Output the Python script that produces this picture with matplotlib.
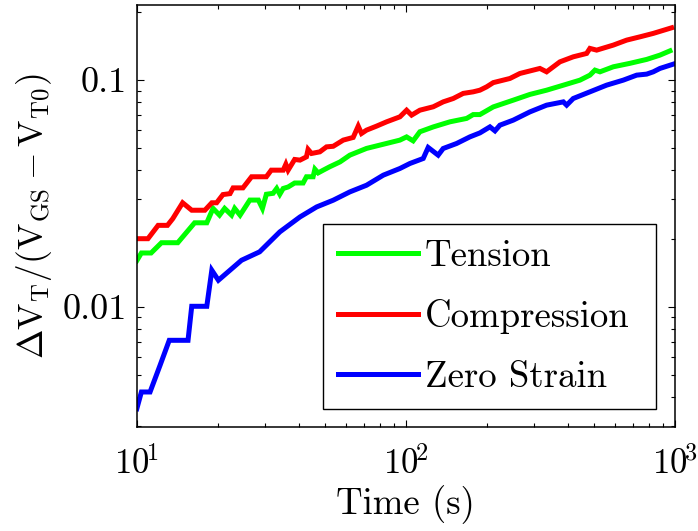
import matplotlib
matplotlib.use("Agg")
import matplotlib.pyplot as plt
from matplotlib.ticker import FixedLocator, FixedFormatter, LogLocator, NullFormatter

plt.rcParams['mathtext.fontset'] = 'cm'
plt.rcParams['font.family'] = ['cmr10', 'DejaVu Serif']
plt.rcParams['axes.unicode_minus'] = False
plt.rcParams['axes.formatter.use_mathtext'] = True

# ---------------- data ----------------
t_tension = [10, 10.4, 11.3, 12.35, 14.2, 16.4, 18.2, 19.2, 20.3, 21.2,
             22.5, 23.1, 24.2, 26.3, 28.3, 29.3, 30.3, 32.1, 33.1, 34.0,
             35.0, 36.5, 38.6, 41.5, 42.7, 45.2, 45.9, 47.2, 49.3, 52.1,
             56.9, 61.9, 71.4, 84.8, 95.0, 100.6, 106.4, 112.7, 126.4, 145.8,
             168.2, 177.9, 188.4, 211.2, 250.6, 289, 333.4, 384.6, 443.6, 483,
             504.3, 526.3, 589.9, 680.3, 784.9, 879.4, 958.2]
y_tension = [0.0160, 0.0173, 0.0173, 0.0192, 0.0192, 0.0235, 0.0235, 0.0272, 0.0254, 0.0272,
             0.0254, 0.0272, 0.0254, 0.0296, 0.0296, 0.0272, 0.0314, 0.0317, 0.0333, 0.0314,
             0.0333, 0.0338, 0.0352, 0.0352, 0.0375, 0.0375, 0.0405, 0.0390, 0.0401, 0.0415,
             0.0436, 0.0467, 0.0500, 0.0526, 0.0544, 0.0562, 0.0540, 0.0592, 0.0622, 0.0655,
             0.0678, 0.0705, 0.0705, 0.0762, 0.0816, 0.0865, 0.0903, 0.0950, 0.1000, 0.1052,
             0.1107, 0.1088, 0.1145, 0.1186, 0.1234, 0.1289, 0.1346]

t_compression = [10, 11, 12, 13, 13.6, 14.8, 16.0, 17.9, 19.0, 19.8,
                 20.9, 22.2, 22.8, 24.8, 26.7, 30.3, 31.6, 35.0, 35.8, 36.5,
                 38.6, 40.4, 42.7, 43.3, 44.6, 47.9, 50.7, 53.7, 58.5, 63.7,
                 66.5, 68.4, 71.4, 77.8, 84.8, 95.0, 100.6, 105, 112.7, 126.4,
                 137.6, 150, 163.3, 177.9, 188.4, 199.5, 211.2, 243.6, 265.3, 314.8,
                 333.4, 373.6, 418.8, 469.6, 483, 511.7, 589.9, 661.4, 741.3, 830.6,
                 972]
y_compression = [0.0200, 0.0200, 0.0229, 0.0229, 0.0245, 0.0288, 0.0267, 0.0267, 0.0288, 0.0288,
                 0.0313, 0.0316, 0.0335, 0.0335, 0.0375, 0.0375, 0.0401, 0.0401, 0.0426, 0.0401,
                 0.0447, 0.0444, 0.0459, 0.0495, 0.0475, 0.0483, 0.0508, 0.0511, 0.0544, 0.0559,
                 0.0627, 0.0582, 0.0602, 0.0627, 0.0655, 0.0689, 0.0737, 0.0701, 0.0737, 0.0763,
                 0.0802, 0.0830, 0.0874, 0.0888, 0.0903, 0.0934, 0.0975, 0.1017, 0.1070, 0.1126,
                 0.1088, 0.1204, 0.1267, 0.1311, 0.1380, 0.1356, 0.1427, 0.1501, 0.1552, 0.1607,
                 0.1701]

t_zero = [10, 10.4, 11.2, 12.2, 13.2, 15.5, 16.0, 18.2, 19.0, 20.1,
          24.5, 28.6, 34.0, 40.4, 46.6, 53.7, 61.9, 71.4, 82.4, 95.0,
          103.5, 116, 121, 131.8, 137.6, 154.3, 172.9, 188.4, 205.3, 214.3,
          223.6, 250.6, 289, 333.4, 384.6, 395.8, 418.8, 483, 557.2, 642.6,
          720.6, 784.9, 830.6, 879.4, 985.6]
y_zero = [0.00356, 0.00422, 0.00422, 0.00553, 0.00713, 0.00713, 0.01007, 0.01007, 0.01452, 0.01312,
          0.01607, 0.0175, 0.02143, 0.02494, 0.02761, 0.02956, 0.03216, 0.03441, 0.03811, 0.04078,
          0.04291, 0.04515, 0.05048, 0.04669, 0.04996, 0.05256, 0.05621, 0.05853, 0.06223, 0.05975,
          0.06331, 0.06662, 0.07245, 0.07757, 0.0802, 0.07757, 0.0830, 0.0888, 0.09504, 0.1000,
          0.1052, 0.1063, 0.1088, 0.1126, 0.1176]

labels = ["Tension", "Compression", "Zero Strain"]
colors = ["#00ff00", "#ff0000", "#0000ff"]

x_ticks = [10, 100, 1000]
x_ticklabels = [r"$10^{\!1}$", r"$10^{\!2}$", r"$10^{\!3}$"]
y_ticks = [0.01, 0.1]
y_ticklabels = ["0.01", "0.1"]

# ---------------- figure ----------------
fig = plt.figure(figsize=(6.98, 5.31), dpi=100)
ax = fig.add_axes([0.196, 0.196, 0.771, 0.7946])

series = [(t_tension, y_tension), (t_compression, y_compression), (t_zero, y_zero)]
for (t, y), lab, c in zip(series, labels, colors):
    ax.plot(t, y, color=c, lw=3.6, label=lab, solid_joinstyle='miter')

ax.set_xscale('log')
ax.set_yscale('log')
ax.set_xlim(10, 1000)
ax.set_ylim(0.00296, 0.2144)

ax.xaxis.set_major_locator(FixedLocator(x_ticks))
ax.xaxis.set_major_formatter(FixedFormatter(x_ticklabels))
ax.xaxis.set_minor_locator(LogLocator(base=10, subs=range(2, 10), numticks=20))
ax.xaxis.set_minor_formatter(NullFormatter())
ax.yaxis.set_major_locator(FixedLocator(y_ticks))
ax.yaxis.set_major_formatter(FixedFormatter(y_ticklabels))
ax.yaxis.set_minor_locator(LogLocator(base=10, subs=range(2, 10), numticks=20))
ax.yaxis.set_minor_formatter(NullFormatter())

ax.tick_params(which='both', direction='in', top=True, right=True, width=0.8)
ax.tick_params(which='major', length=5)
ax.tick_params(which='minor', length=3)
ax.tick_params(axis='x', which='major', pad=14, labelsize=25)
ax.tick_params(axis='y', which='major', pad=7, labelsize=26)
for s in ax.spines.values():
    s.set_linewidth(1.1)

ax.set_xlabel("Time (s)", fontsize=26.5, labelpad=3)
ax.set_ylabel(r"$\Delta\mathrm{V}_\mathrm{T}/(\mathrm{V}_\mathrm{GS}-\mathrm{V}_\mathrm{T0})$",
              fontsize=25.5, labelpad=6)

leg = ax.legend(loc='lower left', bbox_to_anchor=(0.346, 0.042, 0.619, 0.44), mode='expand',
                fontsize=26.5, frameon=True, fancybox=False, framealpha=1, edgecolor='black',
                handlelength=2.15, handletextpad=0.2, labelspacing=0.72, borderpad=0.42,
                borderaxespad=0)
leg.get_frame().set_linewidth(1.0)

fig.savefig("out.png", dpi=100)
